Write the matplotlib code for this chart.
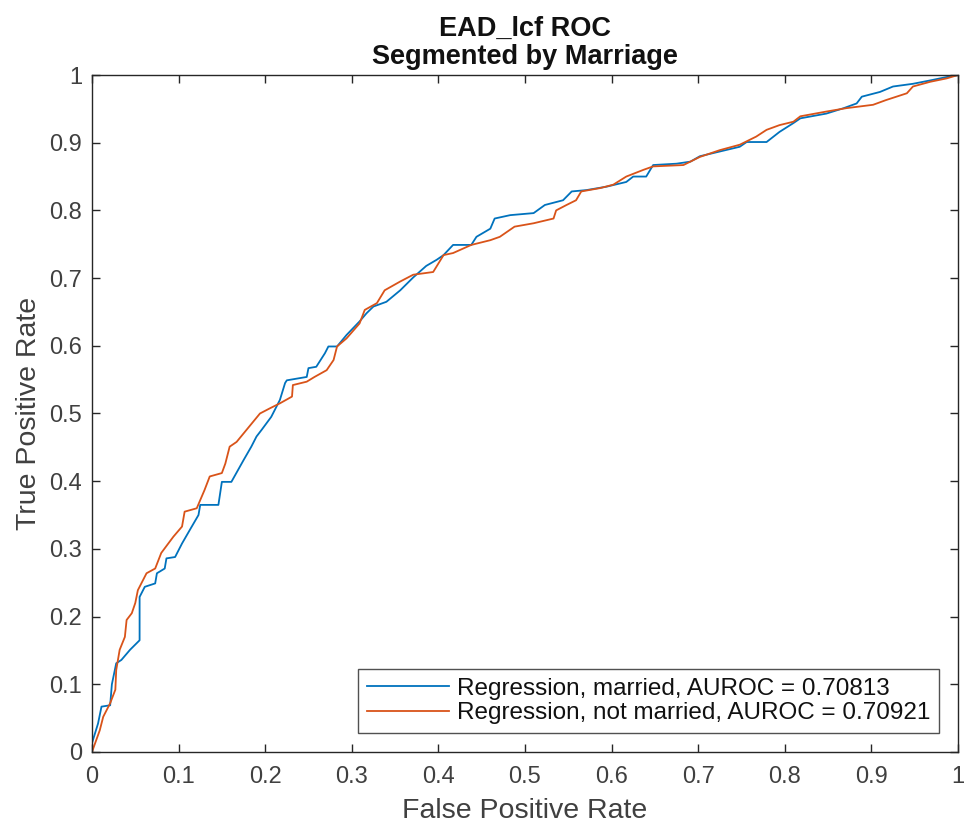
import matplotlib
matplotlib.use("Agg")
import matplotlib.pyplot as plt

plt.rcParams['font.family'] = ['Liberation Sans', 'DejaVu Sans']

# ROC curve for the married segment (FPR, TPR)
married_fpr = [0.0, 0.0, 0.007, 0.011, 0.021, 0.023, 0.028, 0.034, 0.044, 0.055, 0.055,
               0.061, 0.073, 0.075, 0.084, 0.086, 0.096, 0.104, 0.113, 0.123, 0.125,
               0.146, 0.150, 0.161, 0.175, 0.184, 0.190, 0.196, 0.207, 0.217, 0.223,
               0.225, 0.248, 0.250, 0.259, 0.269, 0.273, 0.283, 0.294, 0.309, 0.317,
               0.325, 0.340, 0.356, 0.371, 0.386, 0.398, 0.406, 0.417, 0.438, 0.444,
               0.460, 0.465, 0.483, 0.510, 0.523, 0.544, 0.554, 0.571, 0.594, 0.617,
               0.625, 0.640, 0.648, 0.675, 0.691, 0.702, 0.725, 0.748, 0.756, 0.779,
               0.794, 0.810, 0.818, 0.848, 0.868, 0.883, 0.889, 0.910, 0.925, 0.948,
               0.968, 0.987, 1.0]
married_tpr = [0.0, 0.013, 0.042, 0.067, 0.069, 0.100, 0.131, 0.136, 0.151, 0.165, 0.229,
               0.244, 0.249, 0.264, 0.271, 0.286, 0.288, 0.308, 0.328, 0.350, 0.365,
               0.365, 0.399, 0.399, 0.431, 0.451, 0.466, 0.476, 0.495, 0.520, 0.545,
               0.549, 0.554, 0.567, 0.569, 0.589, 0.599, 0.599, 0.616, 0.636, 0.648,
               0.658, 0.665, 0.682, 0.701, 0.718, 0.727, 0.734, 0.749, 0.749, 0.761,
               0.773, 0.788, 0.793, 0.796, 0.808, 0.815, 0.828, 0.830, 0.835, 0.842,
               0.850, 0.850, 0.867, 0.869, 0.872, 0.880, 0.887, 0.894, 0.901, 0.901,
               0.916, 0.929, 0.936, 0.943, 0.951, 0.958, 0.968, 0.975, 0.983, 0.987,
               0.992, 0.997, 1.0]

# ROC curve for the not-married segment (FPR, TPR)
single_fpr = [0.0, 0.009, 0.013, 0.021, 0.027, 0.028, 0.032, 0.038, 0.040, 0.046, 0.050,
              0.053, 0.057, 0.063, 0.073, 0.080, 0.094, 0.104, 0.107, 0.121, 0.130,
              0.136, 0.150, 0.154, 0.159, 0.167, 0.194, 0.206, 0.217, 0.231, 0.232,
              0.248, 0.257, 0.271, 0.279, 0.283, 0.294, 0.309, 0.315, 0.329, 0.338,
              0.356, 0.371, 0.394, 0.406, 0.417, 0.438, 0.460, 0.471, 0.488, 0.510,
              0.533, 0.536, 0.548, 0.559, 0.565, 0.587, 0.602, 0.617, 0.637, 0.648,
              0.683, 0.702, 0.725, 0.748, 0.767, 0.779, 0.794, 0.810, 0.818, 0.848,
              0.871, 0.902, 0.917, 0.941, 0.948, 0.968, 0.987, 1.0]
single_tpr = [0.0, 0.032, 0.052, 0.072, 0.092, 0.121, 0.151, 0.170, 0.195, 0.205, 0.220,
              0.239, 0.249, 0.264, 0.271, 0.294, 0.318, 0.333, 0.355, 0.360, 0.387,
              0.407, 0.412, 0.426, 0.451, 0.458, 0.500, 0.508, 0.515, 0.525, 0.542,
              0.547, 0.554, 0.564, 0.579, 0.599, 0.611, 0.633, 0.653, 0.663, 0.682,
              0.695, 0.705, 0.709, 0.734, 0.737, 0.749, 0.756, 0.761, 0.776, 0.781,
              0.788, 0.800, 0.808, 0.815, 0.828, 0.833, 0.838, 0.850, 0.860, 0.865,
              0.867, 0.879, 0.889, 0.897, 0.909, 0.919, 0.926, 0.931, 0.939, 0.946,
              0.951, 0.956, 0.963, 0.973, 0.983, 0.990, 0.995, 1.0]

auroc_married = 0.70813
auroc_single = 0.70921
ticks = [0, 0.1, 0.2, 0.3, 0.4, 0.5, 0.6, 0.7, 0.8, 0.9, 1]
tick_labels = ['0', '0.1', '0.2', '0.3', '0.4', '0.5', '0.6', '0.7', '0.8', '0.9', '1']

axis_gray = '#262626'
label_gray = '#404040'

fig = plt.figure(figsize=(9.65, 8.26), dpi=100)
ax = fig.add_axes([0.0953, 0.0896, 0.8974, 0.8196])

ax.plot(married_fpr, married_tpr, color='#0072BD', lw=1.3,
        label=f'Regression, married, AUROC = {auroc_married:.5f}')
ax.plot(single_fpr, single_tpr, color='#D95319', lw=1.3,
        label=f'Regression, not married, AUROC = {auroc_single:.5f}')

ax.set_xlim(0, 1)
ax.set_ylim(0, 1)
ax.set_xticks(ticks)
ax.set_xticklabels(tick_labels)
ax.set_yticks(ticks)
ax.set_yticklabels(tick_labels)
ax.tick_params(direction='in', length=6, width=1, color=axis_gray,
               labelcolor=label_gray, labelsize=17, top=True, right=True)
ax.tick_params(axis='x', pad=10)
ax.tick_params(axis='y', pad=7)
for s in ax.spines.values():
    s.set_color(axis_gray)
    s.set_linewidth(1)

ax.set_xlabel('False Positive Rate', fontsize=20.5, color=label_gray, labelpad=7)
ax.set_ylabel('True Positive Rate', fontsize=20.5, color=label_gray, labelpad=5)
ax.set_title('EAD_lcf ROC\nSegmented by Marriage', fontsize=19.5, fontweight='bold',
             color='#111111', pad=8, linespacing=1.12)

leg = ax.legend(loc='lower right', fontsize=17.5, frameon=True, fancybox=False,
                edgecolor=axis_gray, borderaxespad=0.8, handlelength=3.4,
                handletextpad=0.3, borderpad=0.35, labelspacing=0.1)
leg.get_frame().set_linewidth(1)
for t in leg.get_texts():
    t.set_color('#111111')

fig.savefig('out.png', dpi=100)
